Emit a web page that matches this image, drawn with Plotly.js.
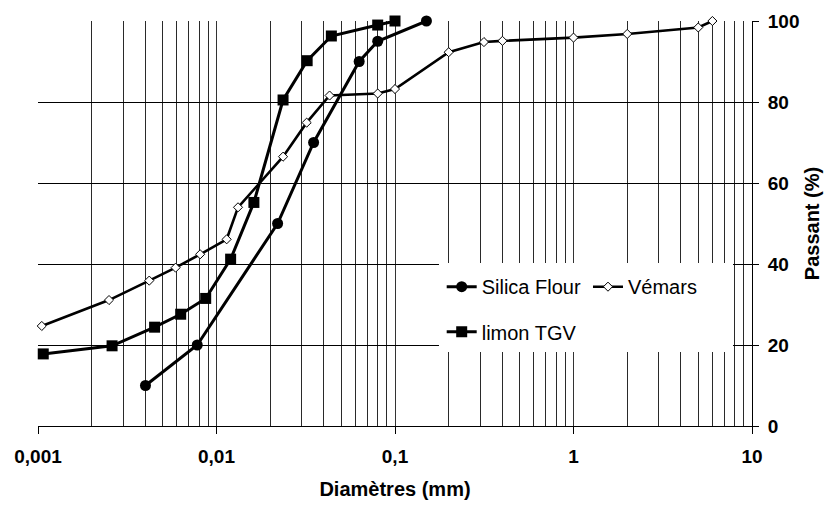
<!DOCTYPE html>
<html>
<head>
<meta charset="utf-8">
<script src="https://cdn.plot.ly/plotly-3.0.1.min.js"></script>
<style>html,body{margin:0;padding:0;background:#fff;}#chart{width:827px;height:505px;}</style>
</head>
<body>
<div id="chart"></div>
<script>
// ---- data ----
const silicaD = [0.004, 0.0078, 0.022, 0.035, 0.063, 0.08, 0.15];
const silicaP = [10, 20, 50, 70, 90, 95, 100];

const vemarsD = [0.00105, 0.0025, 0.0042, 0.0059, 0.0081, 0.0114, 0.0132, 0.0236, 0.032, 0.043, 0.08, 0.1, 0.2, 0.315, 0.4, 1, 2, 5, 6];
const vemarsP = [24.7, 31.1, 35.9, 39.1, 42.4, 46.1, 54.0, 66.5, 74.9, 81.6, 82.1, 83.2, 92.3, 94.8, 95.1, 95.9, 96.8, 98.4, 100];

const limonD = [0.00107, 0.0026, 0.0045, 0.0063, 0.0087, 0.012, 0.0162, 0.0236, 0.0322, 0.044, 0.08, 0.1];
const limonP = [17.8, 19.8, 24.4, 27.6, 31.5, 41.2, 55.2, 80.5, 90.2, 96.3, 99.0, 100];

const xTickVals = [0.001, 0.01, 0.1, 1, 10];
const xTickText = ['0,001', '0,01', '0,1', '1', '10'];
const yTickVals = [0, 20, 40, 60, 80, 100];
const yTickText = ['0', '20', '40', '60', '80', '100'];

const seriesNames = ['Silica Flour', 'Vémars', 'limon TGV'];
const xTitle = 'Diamètres (mm)';
const yTitle = 'Passant (%)';

// ---- chart ----
const FONT = 'Liberation Sans, Arial, sans-serif';

const traces = [
  {
    x: silicaD, y: silicaP, name: seriesNames[0], type: 'scatter', mode: 'lines+markers',
    line: {color: '#000', width: 3},
    marker: {symbol: 'circle', size: 11, color: '#000'},
    cliponaxis: false,
    legend: 'legend'
  },
  {
    x: vemarsD, y: vemarsP, name: seriesNames[1], type: 'scatter', mode: 'lines+markers',
    line: {color: '#000', width: 2.6},
    marker: {symbol: 'diamond', size: 7, color: '#fff', line: {color: '#000', width: 1}},
    cliponaxis: false,
    legend: 'legend2'
  },
  {
    x: limonD, y: limonP, name: seriesNames[2], type: 'scatter', mode: 'lines+markers',
    line: {color: '#000', width: 3},
    marker: {symbol: 'square', size: 11, color: '#000'},
    cliponaxis: false,
    legend: 'legend3'
  }
];

const legendBase = {
  bgcolor: 'rgba(0,0,0,0)', borderwidth: 0,
  font: {family: FONT, size: 20, color: '#000'},
  xanchor: 'left', yanchor: 'middle', orientation: 'v'
};

const layout = {
  width: 827, height: 505,
  margin: {l: 38, r: 75, t: 21, b: 79, pad: 0},
  paper_bgcolor: '#fff', plot_bgcolor: '#fff',
  showlegend: true,
  font: {family: FONT, color: '#000'},
  xaxis: {
    type: 'log', range: [-3, 1],
    tickmode: 'array', tickvals: xTickVals, ticktext: xTickText,
    ticks: 'outside', ticklen: 7, tickwidth: 1, tickcolor: '#000',
    ticklabelstandoff: 6,
    tickfont: {family: FONT, size: 19, weight: 'bold', color: '#000'},
    showgrid: true, gridcolor: '#333', gridwidth: 1,
    minor: {dtick: 'D1', showgrid: true, gridcolor: '#2a2a2a', gridwidth: 1, ticks: ''},
    showline: true, linecolor: '#000', linewidth: 1,
    zeroline: false,
    title: {text: xTitle, font: {family: FONT, size: 20, weight: 'bold', color: '#000'}, standoff: 16}
  },
  yaxis: {
    side: 'right', range: [0, 100],
    tickmode: 'array', tickvals: yTickVals, ticktext: yTickText,
    ticks: 'outside', ticklen: 6, tickwidth: 1, tickcolor: '#000',
    ticklabelstandoff: 5,
    tickfont: {family: FONT, size: 19, weight: 'bold', color: '#000'},
    showgrid: true, gridcolor: '#000', gridwidth: 1,
    showline: true, linecolor: '#000', linewidth: 1,
    zeroline: false,
    title: {text: yTitle, font: {family: FONT, size: 20, weight: 'bold', color: '#000'}, standoff: 6}
  },
  legend: Object.assign({}, legendBase, {x: 0.5654, y: 0.344}),
  legend2: Object.assign({}, legendBase, {x: 0.7703, y: 0.344}),
  legend3: Object.assign({}, legendBase, {x: 0.5654, y: 0.2328}),
  shapes: [{
    type: 'rect', xref: 'paper', yref: 'paper',
    x0: 0.5616, x1: 0.9734, y0: 0.1827, y1: 0.4025,
    fillcolor: '#fff', line: {width: 0}, layer: 'above'
  }]
};

Plotly.newPlot('chart', traces, layout, {staticPlot: true, displayModeBar: false});
</script>
</body>
</html>
